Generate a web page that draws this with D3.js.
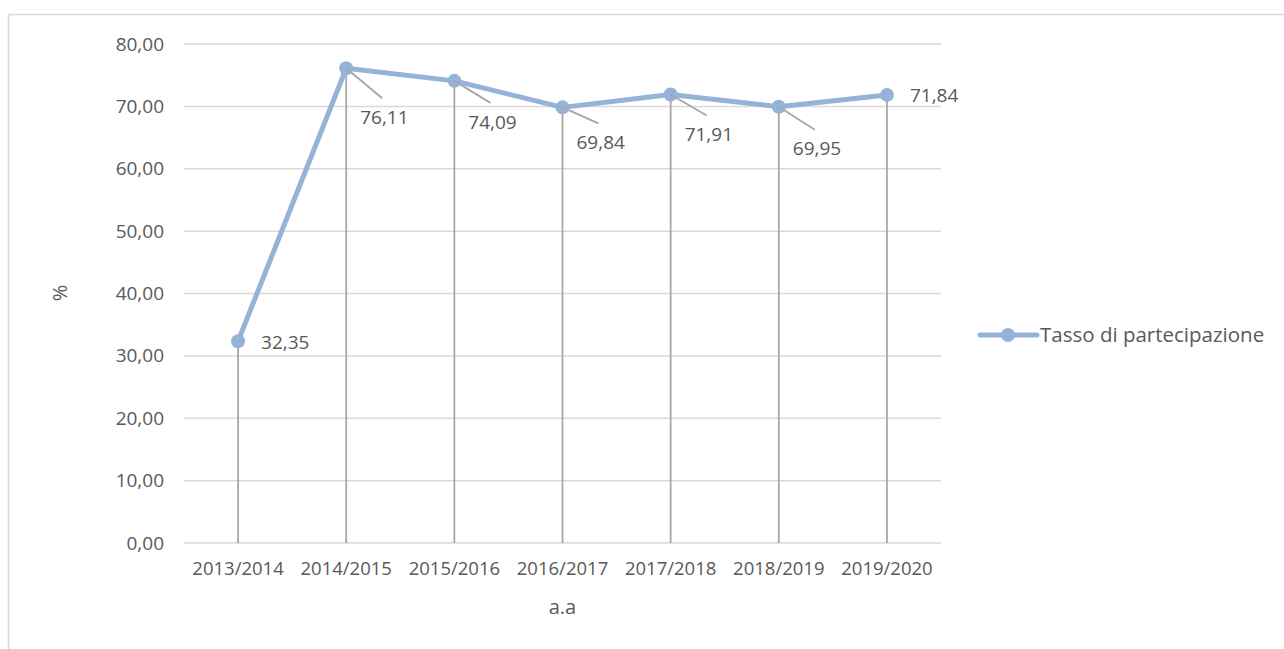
<!DOCTYPE html>
<html>
<head>
<meta charset="utf-8">
<script src="https://cdn.jsdelivr.net/npm/d3@7"></script>
<style>
  body { margin: 0; background: #fff; }
  text { font-family: "Open Sans", sans-serif; fill: #595959; }
</style>
</head>
<body>
<div id="wrapper"></div>
<script>
// data
const years = ["2013/2014", "2014/2015", "2015/2016", "2016/2017", "2017/2018", "2018/2019", "2019/2020"];
const rates = [32.35, 76.11, 74.09, 69.84, 71.91, 69.95, 71.84];
const labelText = ["32,35", "76,11", "74,09", "69,84", "71,91", "69,95", "71,84"];
const yTicks = [0, 10, 20, 30, 40, 50, 60, 70, 80];
const seriesName = "Tasso di partecipazione";

// label placement (Excel style leader lines)
const labelDy = [1, 49, 41, 35, 40, 42, 0];
const labelLeader = [false, true, true, true, true, true, false];

const dimension = {
    width: 1284,
    height: 649,
    margin: { top: 44, left: 184, bottom: 106, right: 343 }
};
dimension.boundedWidth = dimension.width - dimension.margin.left - dimension.margin.right;
dimension.boundedHeight = dimension.height - dimension.margin.top - dimension.margin.bottom;

const svg = d3.select("#wrapper").append("svg")
    .attr("width", dimension.width)
    .attr("height", dimension.height);

// outer chart border
svg.append("rect")
    .attr("x", 8.5).attr("y", 14.5)
    .attr("width", 1300).attr("height", 700)
    .attr("fill", "none")
    .attr("stroke", "#d9d9d9")
    .attr("stroke-width", 1.5);

const bounded = svg.append("g")
    .attr("transform", `translate(${dimension.margin.left},${dimension.margin.top})`);

const xScaler = d3.scaleBand()
    .domain(years)
    .range([0, dimension.boundedWidth]);

const yScaler = d3.scaleLinear()
    .domain([0, 80])
    .range([dimension.boundedHeight, 0]);

const xPos = (d) => xScaler(d) + xScaler.bandwidth() / 2;
const fmt = (v) => v.toFixed(2).replace(".", ",");

// gridlines
bounded.append("g")
    .selectAll("line")
    .data(yTicks)
    .join("line")
    .attr("x1", 0)
    .attr("x2", dimension.boundedWidth)
    .attr("y1", (d) => yScaler(d))
    .attr("y2", (d) => yScaler(d))
    .attr("stroke", "#d9d9d9")
    .attr("stroke-width", 1.5);

// y axis labels
const yAxisGroup = bounded.append("g")
    .call(d3.axisLeft(yScaler).tickValues(yTicks).tickFormat(fmt).tickSize(0).tickPadding(20));
yAxisGroup.select(".domain").remove();
yAxisGroup.selectAll("text")
    .attr("font-size", "19px")
    .attr("font-family", "Open Sans, sans-serif")
    .attr("fill", "#595959");

// x axis labels
const xAxisGroup = bounded.append("g")
    .attr("transform", `translate(0,${dimension.boundedHeight})`)
    .call(d3.axisBottom(xScaler).tickSize(0).tickPadding(19));
xAxisGroup.select(".domain").remove();
xAxisGroup.selectAll("text")
    .attr("font-size", "18.5px")
    .attr("font-family", "Open Sans, sans-serif")
    .attr("fill", "#595959");

// drop lines
bounded.append("g")
    .selectAll("line")
    .data(years)
    .join("line")
    .attr("x1", (d) => xPos(d))
    .attr("x2", (d) => xPos(d))
    .attr("y1", (d, i) => yScaler(rates[i]))
    .attr("y2", dimension.boundedHeight)
    .attr("stroke", "#a6a6a6")
    .attr("stroke-width", 1.8);

// series line
const line = d3.line()
    .x((d, i) => xPos(years[i]))
    .y((d) => yScaler(d));

bounded.append("path")
    .datum(rates)
    .attr("d", line)
    .attr("fill", "none")
    .attr("stroke", "#95b3d7")
    .attr("stroke-width", 5)
    .attr("stroke-linejoin", "round")
    .attr("stroke-linecap", "round");

bounded.append("g")
    .selectAll("circle")
    .data(rates)
    .join("circle")
    .attr("cx", (d, i) => xPos(years[i]))
    .attr("cy", (d) => yScaler(d))
    .attr("r", 7)
    .attr("fill", "#95b3d7");

// leader lines and data labels
const labels = bounded.append("g");
rates.forEach((v, i) => {
    const px = xPos(years[i]);
    const py = yScaler(v);
    if (labelLeader[i]) {
        labels.append("line")
            .attr("x1", px).attr("y1", py)
            .attr("x2", px + 36).attr("y2", py + labelDy[i] - 19)
            .attr("stroke", "#a6a6a6")
            .attr("stroke-width", 1.8);
    }
    labels.append("text")
        .attr("x", px + (labelLeader[i] ? 14 : 23))
        .attr("y", py + labelDy[i])
        .attr("dy", "0.35em")
        .attr("font-size", "19px")
        .text(labelText[i]);
});

// axis titles
svg.append("text")
    .attr("x", dimension.margin.left + dimension.boundedWidth / 2)
    .attr("y", 607)
    .attr("dy", "0.35em")
    .attr("text-anchor", "middle")
    .attr("font-size", "20px")
    .text("a.a");

svg.append("text")
    .attr("transform", "translate(60,293) rotate(-90)")
    .attr("dy", "0.35em")
    .attr("text-anchor", "middle")
    .attr("font-size", "20px")
    .text("%");

// legend
const legend = svg.append("g").attr("transform", "translate(980,335)");
legend.append("line")
    .attr("x1", 0).attr("x2", 57)
    .attr("y1", 0).attr("y2", 0)
    .attr("stroke", "#95b3d7")
    .attr("stroke-width", 5)
    .attr("stroke-linecap", "round");
legend.append("circle")
    .attr("cx", 28).attr("cy", 0).attr("r", 7)
    .attr("fill", "#95b3d7");
legend.append("text")
    .attr("x", 60)
    .attr("dy", "0.35em")
    .attr("font-size", "20.5px")
    .text(seriesName);
</script>
</body>
</html>
